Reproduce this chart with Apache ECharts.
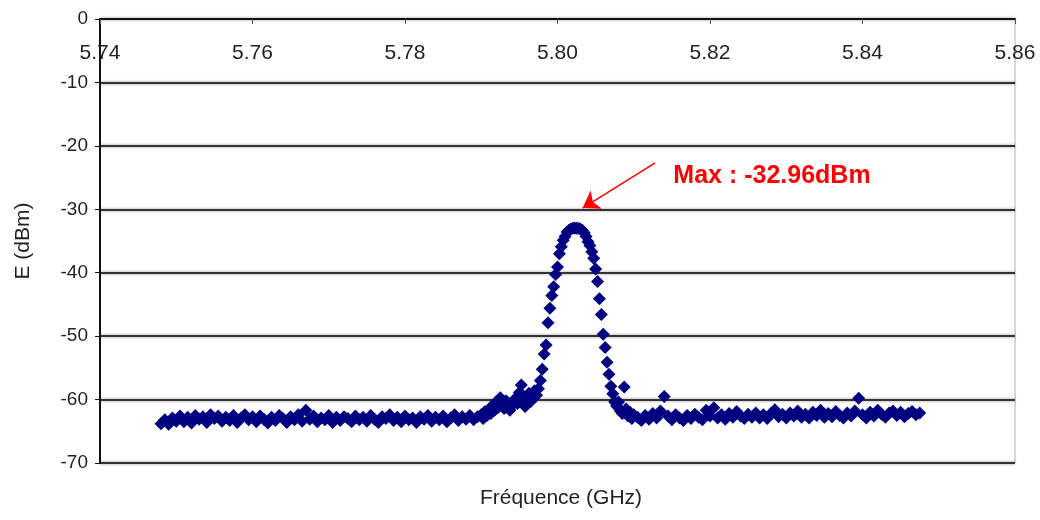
<!DOCTYPE html>
<html>
<head>
<meta charset="utf-8">
<script src="https://cdn.jsdelivr.net/npm/echarts@6/dist/echarts.min.js"></script>
<style>
  html, body { margin: 0; padding: 0; background: #fff; }
  #chart { width: 1040px; height: 520px; }
</style>
</head>
<body>
<div id="chart"></div>
<script>
// ---- Data ----
const xTitle = 'Fréquence (GHz)';
const yTitle = 'E (dBm)';
const maxLabel = 'Max : -32.96dBm';
const xMin = 5.74, xMax = 5.86, xStep = 0.02;
const yMin = -70, yMax = 0, yStep = 10;

// noise floor, left of the peak  [GHz, dBm]
const floorLeft = [
  [5.7480,-63.8],[5.7485,-63.2],[5.7490,-63.9],[5.7495,-62.9],[5.7500,-63.4],[5.7505,-62.6],
  [5.7510,-63.5],[5.7515,-62.8],[5.7520,-63.7],[5.7525,-62.5],[5.7530,-63.1],[5.7535,-62.7],
  [5.7540,-63.6],[5.7545,-62.4],[5.7550,-63.0],[5.7555,-62.6],[5.7560,-63.4],[5.7565,-62.8],
  [5.7570,-63.3],[5.7575,-62.5],[5.7580,-63.6],[5.7585,-62.9],[5.7590,-62.4],[5.7595,-63.2],
  [5.7600,-62.7],[5.7605,-63.5],[5.7610,-62.6],[5.7615,-63.1],[5.7620,-63.7],[5.7625,-62.8],
  [5.7630,-63.3],[5.7635,-62.5],[5.7640,-63.0],[5.7645,-63.6],[5.7650,-62.7],[5.7655,-63.2],
  [5.7660,-62.4],[5.7665,-63.4],[5.7670,-61.7],[5.7675,-63.1],[5.7680,-62.6],[5.7685,-63.5],
  [5.7690,-62.9],[5.7695,-63.2],[5.7700,-62.5],[5.7705,-63.6],[5.7710,-62.8],[5.7715,-63.3],
  [5.7720,-62.7],[5.7725,-63.0],[5.7730,-63.5],[5.7735,-62.6],[5.7740,-63.2],[5.7745,-62.8],
  [5.7750,-63.4],[5.7755,-62.5],[5.7760,-63.1],[5.7765,-63.6],[5.7770,-62.7],[5.7775,-63.0],
  [5.7780,-62.4],[5.7785,-63.3],[5.7790,-62.8],[5.7795,-63.5],[5.7800,-62.6],[5.7805,-63.2],
  [5.7810,-62.9],[5.7815,-63.6],[5.7820,-62.7],[5.7825,-63.1],[5.7830,-62.5],[5.7835,-63.4],
  [5.7840,-62.8],[5.7845,-63.2],[5.7850,-62.6],[5.7855,-63.5],[5.7860,-62.9],[5.7865,-62.4],
  [5.7870,-63.3],[5.7875,-62.7],[5.7880,-63.1],[5.7885,-62.5],[5.7890,-63.2],[5.7895,-62.7]
];

// rising skirt before the peak
const skirtLeft = [
  [5.79000,-62.4],[5.79025,-63.0],[5.79050,-61.9],[5.79075,-62.5],[5.79100,-61.6],[5.79125,-62.2],
  [5.79150,-60.9],[5.79175,-61.7],[5.79200,-60.3],[5.79225,-61.2],[5.79250,-59.7],[5.79275,-60.8],
  [5.79300,-61.4],[5.79325,-60.2],[5.79350,-60.6],[5.79375,-61.7],[5.79400,-61.0],[5.79425,-60.3],
  [5.79450,-59.8],[5.79475,-60.6],[5.79500,-58.9],[5.79525,-57.7],[5.79550,-59.4],[5.79575,-61.1],
  [5.79600,-60.2],[5.79625,-59.0],[5.79650,-60.3],[5.79675,-59.5],[5.79700,-58.6],[5.79725,-59.3]
];

// main peak
const peak = [
  [5.79750,-58.3],[5.79775,-57.0],[5.79800,-55.2],[5.79825,-52.8],[5.79850,-51.4],[5.79875,-47.9],
  [5.79900,-45.6],[5.79925,-43.6],[5.79950,-42.2],[5.79975,-40.3],[5.80000,-39.1],[5.80025,-37.0],
  [5.80050,-35.9],[5.80075,-34.9],[5.80100,-34.3],[5.80125,-33.6],[5.80150,-33.3],[5.80175,-33.1],
  [5.80200,-33.0],[5.80225,-32.96],[5.80250,-33.0],[5.80275,-33.0],[5.80300,-33.1],[5.80325,-33.3],
  [5.80350,-33.7],[5.80375,-34.3],[5.80400,-35.1],[5.80425,-35.7],[5.80450,-36.7],[5.80475,-37.7],
  [5.80500,-39.4],[5.80525,-41.4],[5.80550,-44.1],[5.80575,-46.6],[5.80600,-49.7],[5.80625,-51.8],
  [5.80650,-54.1],[5.80675,-56.0],[5.80700,-57.9],[5.80725,-59.1],[5.80750,-60.4]
];

// falling skirt after the peak
const skirtRight = [
  [5.80775,-61.0],[5.80800,-60.4],[5.80825,-61.8],[5.80850,-62.2],[5.80875,-58.0],[5.80900,-61.5],
  [5.80925,-62.6],[5.80950,-62.0],[5.80975,-63.0],[5.81000,-62.4]
];

// noise floor, right of the peak
const floorRight = [
  [5.8105,-62.8],[5.8110,-63.3],[5.8115,-62.5],[5.8120,-63.1],[5.8125,-62.2],[5.8130,-62.9],
  [5.8135,-61.8],[5.8140,-59.5],[5.8145,-62.6],[5.8150,-63.2],[5.8155,-62.4],[5.8160,-62.9],
  [5.8165,-63.3],[5.8170,-62.5],[5.8175,-63.0],[5.8180,-62.3],[5.8185,-62.8],[5.8190,-63.2],
  [5.8195,-61.7],[5.8200,-62.6],[5.8205,-61.3],[5.8210,-62.9],[5.8215,-62.4],[5.8220,-63.1],
  [5.8225,-62.2],[5.8230,-62.8],[5.8235,-61.9],[5.8240,-62.6],[5.8245,-63.0],[5.8250,-62.3],
  [5.8255,-62.8],[5.8260,-62.1],[5.8265,-62.9],[5.8270,-62.4],[5.8275,-63.0],[5.8280,-62.2],
  [5.8285,-61.6],[5.8290,-62.7],[5.8295,-62.3],[5.8300,-62.9],[5.8305,-62.1],[5.8310,-62.6],
  [5.8315,-61.8],[5.8320,-62.8],[5.8325,-62.3],[5.8330,-62.9],[5.8335,-62.0],[5.8340,-62.5],
  [5.8345,-61.7],[5.8350,-62.8],[5.8355,-62.2],[5.8360,-62.7],[5.8365,-61.9],[5.8370,-62.5],
  [5.8375,-62.9],[5.8380,-62.1],[5.8385,-62.6],[5.8390,-61.8],[5.8395,-59.8],[5.8400,-62.4],
  [5.8405,-62.9],[5.8410,-62.0],[5.8415,-62.6],[5.8420,-61.7],[5.8425,-62.3],[5.8430,-62.8],
  [5.8435,-62.1],[5.8440,-61.8],[5.8445,-62.5],[5.8450,-62.0],[5.8455,-62.7],[5.8460,-62.2],
  [5.8465,-61.9],[5.8470,-62.4],[5.8475,-62.1]
];

// annotation anchor points (data coordinates)
const arrowFrom = [5.8128, -22.7];
const arrowTo   = [5.8033, -29.8];
const labelAt   = [5.8146, -24.8];

const measured = floorLeft.concat(skirtLeft, peak, skirtRight, floorRight);

const FONT = '"Liberation Sans", Arial, sans-serif';
const chart = echarts.init(document.getElementById('chart'), null, { renderer: 'canvas' });
chart.setOption({
  animation: false,
  backgroundColor: '#ffffff',
  grid: {
    left: 100, right: 25, top: 19, bottom: 57,
    show: true, borderColor: '#b0b0b0', borderWidth: 1
  },
  title: {
    text: xTitle,
    left: 556, top: 483, textAlign: 'center',
    textStyle: { fontFamily: FONT, fontSize: 21, fontWeight: 'normal', color: '#222' }
  },
  xAxis: {
    type: 'value', position: 'top',
    min: xMin, max: xMax, interval: xStep,
    axisLine: { show: true, onZero: false, lineStyle: { color: '#111', width: 2 } },
    axisTick: { show: true, inside: true, length: 5, lineStyle: { color: '#555' } },
    axisLabel: {
      inside: true, margin: 24, color: '#222',
      fontFamily: FONT, fontSize: 21,
      formatter: v => v.toFixed(2)
    },
    splitLine: { show: false }
  },
  yAxis: {
    type: 'value',
    min: yMin, max: yMax, interval: yStep,
    name: yTitle, nameLocation: 'middle', nameGap: 66,
    nameTextStyle: { fontFamily: FONT, fontSize: 21, color: '#222' },
    axisLine: { show: true, lineStyle: { color: '#111', width: 2 } },
    axisTick: { show: true, length: 5, lineStyle: { color: '#111' } },
    axisLabel: { color: '#222', fontFamily: FONT, fontSize: 19, margin: 12 },
    splitLine: { show: true, lineStyle: { color: '#333', width: 2, shadowColor: 'rgba(0,0,0,0.45)', shadowBlur: 3 } }
  },
  series: [{
    type: 'scatter',
    data: measured,
    symbol: 'diamond',
    symbolSize: 13,
    itemStyle: { color: '#000080', opacity: 1 },
    markLine: {
      silent: true,
      symbol: ['none', 'arrow'],
      symbolSize: 16,
      lineStyle: { color: '#ff0000', width: 1.5, type: 'solid' },
      itemStyle: { color: '#ff0000' },
      label: { show: false },
      emphasis: { disabled: true },
      data: [[{ coord: arrowFrom }, { coord: arrowTo }]]
    },
    markPoint: {
      silent: true,
      symbol: 'circle', symbolSize: 1,
      itemStyle: { color: 'rgba(0,0,0,0)' },
      label: {
        show: true, position: 'right', distance: 4,
        formatter: maxLabel,
        color: '#ff0000', fontFamily: FONT, fontSize: 25, fontWeight: 'bold'
      },
      data: [{ coord: labelAt }]
    }
  }]
});
</script>
</body>
</html>
